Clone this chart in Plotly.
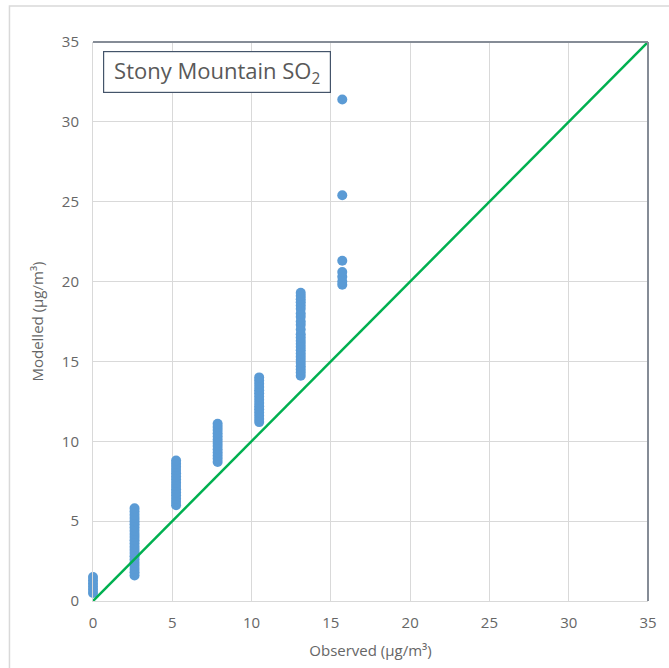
import plotly.graph_objects as go

# Observed SO2 concentrations (ug/m3) and the modelled values paired with them
obs_0 = [0.0] * 6
mod_0 = [0.5, 0.7, 0.9, 1.1, 1.3, 1.5]

obs_1 = [2.62] * 22
mod_1 = [1.6, 1.8, 2.0, 2.2, 2.4, 2.6, 2.8, 3.0, 3.2, 3.4, 3.6,
         3.8, 4.0, 4.2, 4.4, 4.6, 4.8, 5.0, 5.2, 5.4, 5.6, 5.8]

obs_2 = [5.24] * 15
mod_2 = [6.0, 6.2, 6.4, 6.6, 6.8, 7.0, 7.2, 7.4, 7.6, 7.8, 8.0,
         8.2, 8.4, 8.6, 8.8]

obs_3 = [7.86] * 13
mod_3 = [8.7, 8.9, 9.1, 9.3, 9.5, 9.7, 9.9, 10.1, 10.3, 10.5, 10.7,
         10.9, 11.1]

obs_4 = [10.48] * 15
mod_4 = [11.2, 11.4, 11.6, 11.8, 12.0, 12.2, 12.4, 12.6, 12.8, 13.0,
         13.2, 13.4, 13.6, 13.8, 14.0]

obs_5 = [13.1] * 25
mod_5 = [14.1, 14.3, 14.5, 14.7, 14.9, 15.1, 15.3, 15.5, 15.7, 15.9,
         16.1, 16.3, 16.5, 16.7, 17.0, 17.3, 17.5, 17.8, 18.0, 18.3,
         18.5, 18.7, 18.9, 19.1, 19.3]

obs_6 = [15.72] * 7
mod_6 = [19.8, 20.0, 20.3, 20.6, 21.3, 25.4, 31.4]

observed = obs_0 + obs_1 + obs_2 + obs_3 + obs_4 + obs_5 + obs_6
modelled = mod_0 + mod_1 + mod_2 + mod_3 + mod_4 + mod_5 + mod_6

# 1:1 reference line
line_x = [0, 35]
line_y = [0, 35]

tick_vals = [0, 5, 10, 15, 20, 25, 30, 35]

FONT = "Open Sans"
GREY_TEXT = "#666666"
GRID = "#D9D9D9"

fig = go.Figure()
fig.add_trace(go.Scatter(
    x=observed, y=modelled, mode="markers",
    marker=dict(size=10, color="#5B9BD5", line=dict(width=0)),
    showlegend=False, hoverinfo="x+y", cliponaxis=False,
))
fig.add_trace(go.Scatter(
    x=line_x, y=line_y, mode="lines",
    line=dict(color="#00B050", width=2.5),
    showlegend=False, hoverinfo="skip", cliponaxis=False,
))

fig.update_layout(
    width=669, height=668,
    margin=dict(l=93, r=21, t=42, b=67),
    paper_bgcolor="white", plot_bgcolor="white",
    font=dict(family=FONT, color=GREY_TEXT, size=15),
    xaxis=dict(
        range=[0, 35], tickvals=tick_vals, showgrid=True, gridcolor=GRID,
        gridwidth=1, zeroline=False, showline=True, linecolor=GRID,
        linewidth=1, ticks="", ticklabelstandoff=8,
        tickfont=dict(size=15, color=GREY_TEXT),
        title=dict(text="Observed (µg/m³)", standoff=14,
                   font=dict(size=15, color=GREY_TEXT)),
    ),
    yaxis=dict(
        range=[0, 35], tickvals=tick_vals, showgrid=True, gridcolor=GRID,
        gridwidth=1, zeroline=False, showline=True, linecolor=GRID,
        linewidth=1, ticks="", ticklabelstandoff=10,
        tickfont=dict(size=15, color=GREY_TEXT),
        title=dict(text="Modelled (µg/m³)", standoff=14,
                   font=dict(size=15, color=GREY_TEXT)),
    ),
    shapes=[
        # darker top and right edges of the plotting area
        dict(type="line", xref="paper", yref="paper", x0=0, x1=1, y0=1, y1=1,
             line=dict(color="#858C96", width=2)),
        dict(type="line", xref="paper", yref="paper", x0=1, x1=1, y0=0, y1=1,
             line=dict(color="#858C96", width=2)),
        # outer chart frame
        dict(type="rect", xref="paper", yref="paper",
             x0=-0.1505, x1=1.06, y0=-0.14, y1=1.0644,
             line=dict(color="#D9D9D9", width=1.5), layer="below"),
    ],
    annotations=[
        dict(text="Stony Mountain SO<sub>2</sub>", xref="paper", yref="paper",
             x=0.018, y=0.984, xanchor="left", yanchor="top", showarrow=False,
             font=dict(size=22, color="#595959", family=FONT),
             bordercolor="#44546A", borderwidth=1.2, borderpad=3,
             width=220, align="center",
             bgcolor="white"),
    ],
)

fig.write_html("out.html")
